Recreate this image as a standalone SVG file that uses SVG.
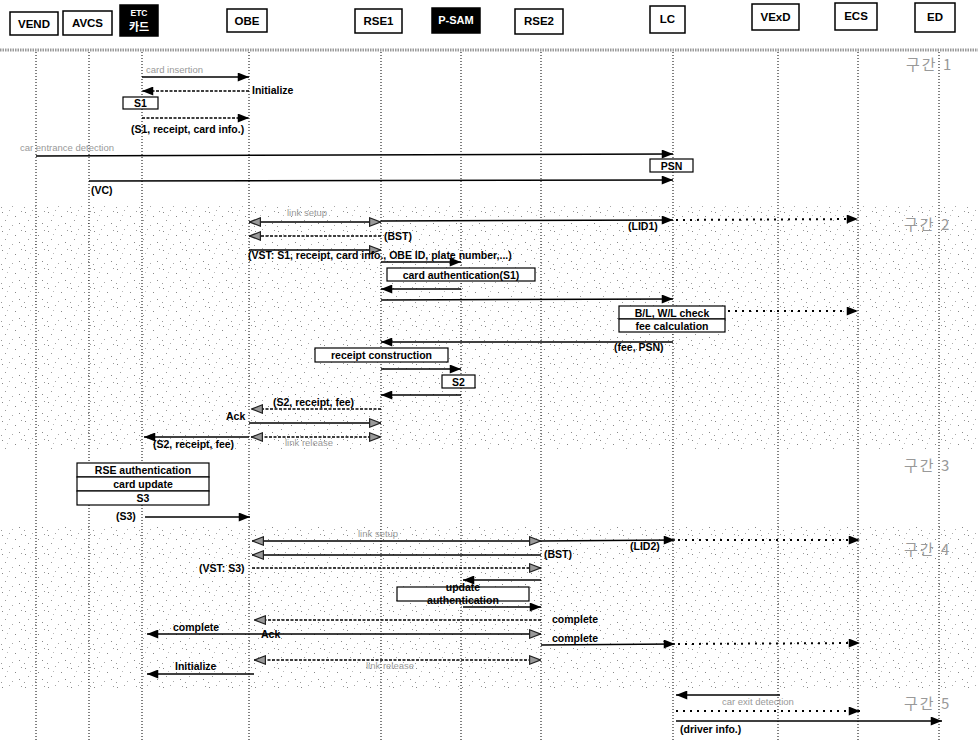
<svg xmlns="http://www.w3.org/2000/svg" width="978" height="740" viewBox="0 0 978 740">
<style>
.hb{fill:#fff;stroke:#000;stroke-width:1.5}
.hbk{fill:#000;stroke:#000;stroke-width:1.5}
.ht{font-family:"Liberation Sans",Arial,sans-serif;font-weight:bold;font-size:11.5px;text-anchor:middle;fill:#000}
.htw{font-family:"Liberation Sans","Noto Sans CJK KR",sans-serif;font-weight:bold;text-anchor:middle;fill:#fff}
.life{stroke:#000;stroke-width:1;stroke-dasharray:1 2;fill:none}
.m{stroke:#000;stroke-width:1.4;fill:none;marker-end:url(#ah)}
.md{stroke:#000;stroke-width:1.4;fill:none;stroke-dasharray:3 1.5;marker-end:url(#ah)}
.mg{stroke:#000;stroke-width:1.4;fill:none;marker-end:url(#ahg)}
.mgd{stroke:#000;stroke-width:1.4;fill:none;stroke-dasharray:3 1.5;marker-end:url(#ahg)}
.mgg{stroke:#000;stroke-width:1.4;fill:none;marker-start:url(#ahg);marker-end:url(#ahg)}
.mggd{stroke:#000;stroke-width:1.4;fill:none;stroke-dasharray:3 1.5;marker-start:url(#ahg);marker-end:url(#ahg)}
.dot{stroke:#000;stroke-width:2;fill:none;stroke-dasharray:2 5;marker-end:url(#ah)}
.t{font-family:"Liberation Sans",Arial,sans-serif;font-weight:bold;font-size:10.5px;fill:#000}
.g{font-family:"Liberation Sans",Arial,sans-serif;font-size:9.5px;fill:#999}
.bx{fill:#fff;stroke:#000;stroke-width:1.2}
.bt{font-family:"Liberation Sans",Arial,sans-serif;font-weight:bold;font-size:10.5px;fill:#000;text-anchor:middle}
.sec{font-family:"Noto Sans CJK KR","Liberation Sans",sans-serif;font-size:15px;fill:#999;letter-spacing:2px}
</style>
<defs>
<marker id="ah" viewBox="0 0 10 8" refX="10" refY="4" markerWidth="12" markerHeight="9" markerUnits="userSpaceOnUse" orient="auto-start-reverse"><path d="M0,0 L10,4 L0,8 z" fill="#000"/></marker>
<marker id="ahg" viewBox="0 0 10 8" refX="10" refY="4" markerWidth="12" markerHeight="10" markerUnits="userSpaceOnUse" orient="auto-start-reverse"><path d="M0.5,0.5 L9.5,4 L0.5,7.5 z" fill="#999" stroke="#222" stroke-width="1"/></marker>
<pattern id="noise" width="23" height="19" patternUnits="userSpaceOnUse">
<rect x="2" y="3" width="1" height="1" fill="#888"/><rect x="9" y="1" width="1" height="1" fill="#aaa"/><rect x="15" y="7" width="1" height="1" fill="#888"/><rect x="5" y="11" width="1" height="1" fill="#999"/><rect x="19" y="14" width="1" height="1" fill="#888"/><rect x="12" y="16" width="1" height="1" fill="#aaa"/><rect x="21" y="2" width="1" height="1" fill="#999"/><rect x="7" y="6" width="1" height="1" fill="#bbb"/><rect x="1" y="17" width="1" height="1" fill="#999"/>
</pattern>
</defs>
<rect width="978" height="740" fill="#fff"/>
<rect x="0" y="205" width="978" height="245" fill="url(#noise)"/>
<rect x="0" y="525" width="978" height="165" fill="url(#noise)"/>
<line x1="0" y1="50" x2="978" y2="50" stroke="#999" stroke-width="3" stroke-dasharray="1.5 1"/>
<g id="lifelines">
<line class="life" x1="36" y1="52" x2="36" y2="740"/>
<line class="life" x1="89" y1="52" x2="89" y2="740"/>
<line class="life" x1="142" y1="52" x2="142" y2="740"/>
<line class="life" x1="249" y1="52" x2="249" y2="740"/>
<line class="life" x1="381" y1="52" x2="381" y2="740"/>
<line class="life" x1="461" y1="52" x2="461" y2="740"/>
<line class="life" x1="541" y1="52" x2="541" y2="740"/>
<line class="life" x1="673" y1="52" x2="673" y2="740"/>
<line class="life" x1="778" y1="52" x2="778" y2="740"/>
<line class="life" x1="858" y1="52" x2="858" y2="740"/>
<line class="life" x1="939" y1="52" x2="939" y2="740"/>
</g>
<g id="VEND"><rect class="hb" x="10" y="12" width="48" height="23"/><text class="ht" x="34" y="28">VEND</text></g>
<g id="AVCS"><rect class="hb" x="63" y="11" width="49" height="24"/><text class="ht" x="87.5" y="27">AVCS</text></g>
<g id="ETC"><rect class="hbk" x="120" y="5" width="38" height="31"/><text class="htw" x="139" y="16" font-size="8.5">ETC</text><text class="htw" x="139" y="31" font-size="11">카드</text></g>
<g id="OBE"><rect class="hb" x="227" y="9" width="40" height="23"/><text class="ht" x="247" y="25">OBE</text></g>
<g id="RSE1"><rect class="hb" x="355" y="9" width="47" height="24"/><text class="ht" x="378.5" y="25">RSE1</text></g>
<g id="PSAM"><rect class="hbk" x="432" y="8" width="48" height="25"/><text class="htw" x="456" y="24" font-size="11">P-SAM</text></g>
<g id="RSE2"><rect class="hb" x="515" y="9" width="48" height="25"/><text class="ht" x="539" y="25">RSE2</text></g>
<g id="LC"><rect class="hb" x="650" y="6" width="35" height="27"/><text class="ht" x="667.5" y="23">LC</text></g>
<g id="VExD"><rect class="hb" x="752" y="4" width="47" height="26"/><text class="ht" x="775.5" y="21">VExD</text></g>
<g id="ECS"><rect class="hb" x="835" y="3" width="42" height="27"/><text class="ht" x="856" y="20">ECS</text></g>
<g id="ED"><rect class="hb" x="915" y="3" width="40" height="29"/><text class="ht" x="935" y="21">ED</text></g>

<g id="sections">
<text class="sec" x="906" y="70">구간 1</text>
<text class="sec" x="904" y="230">구간 2</text>
<text class="sec" x="904" y="471">구간 3</text>
<text class="sec" x="904" y="555">구간 4</text>
<text class="sec" x="904" y="709">구간 5</text>
</g>

<g id="boxes">
<g id="S1"><rect class="bx" x="123" y="97" width="35" height="12"/><text class="bt" x="140.5" y="107">S1</text></g>
<g id="PSN"><rect class="bx" x="650" y="159" width="43" height="13"/><text class="bt" x="671.5" y="169.5">PSN</text></g>
<g id="cardauth"><rect class="bx" x="387" y="268" width="148" height="13"/><text class="bt" x="461" y="278.5">card authentication(S1)</text></g>
<g id="blwl"><rect class="bx" x="619" y="306" width="106" height="13"/><text class="bt" x="672" y="316.5">B/L, W/L check</text><rect class="bx" x="619" y="319" width="106" height="13"/><text class="bt" x="672" y="329.5">fee calculation</text></g>
<g id="receipt"><rect class="bx" x="315" y="348" width="133" height="14"/><text class="bt" x="381.5" y="359">receipt construction</text></g>
<g id="S2"><rect class="bx" x="442" y="375" width="33" height="13"/><text class="bt" x="458.5" y="385.5">S2</text></g>
<g id="rseauth"><rect class="bx" x="77" y="463" width="132" height="14"/><text class="bt" x="143" y="474">RSE authentication</text><rect class="bx" x="77" y="477" width="132" height="14"/><text class="bt" x="143" y="488">card update</text><rect class="bx" x="77" y="491" width="132" height="14"/><text class="bt" x="143" y="502">S3</text></g>
<g id="update"><rect class="bx" x="397" y="587" width="132" height="14"/><text class="bt" x="463" y="591">update</text><text class="bt" x="463" y="604">authentication</text></g>
</g>

<g id="connectors">
<line class="m" x1="142" y1="77" x2="249" y2="77"/>
<line class="md" x1="249" y1="91" x2="142" y2="91"/>
<line class="md" x1="142" y1="118" x2="249" y2="118"/>
<line class="m" x1="36" y1="156" x2="673" y2="154"/>
<line class="m" x1="89" y1="181" x2="673" y2="180"/>

<line class="mgg" x1="249" y1="222" x2="381" y2="222"/>
<line class="m" x1="381" y1="221" x2="673" y2="220"/>
<line class="dot" x1="676" y1="220" x2="858" y2="219"/>
<line class="mgd" x1="381" y1="236" x2="249" y2="236"/>
<line class="mg" x1="249" y1="250" x2="381" y2="250"/>
<line class="m" x1="381" y1="262" x2="461" y2="262"/>
<line class="m" x1="461" y1="289" x2="381" y2="289"/>
<line class="m" x1="381" y1="300" x2="673" y2="299"/>
<line class="dot" x1="728" y1="311" x2="858" y2="311"/>
<line class="m" x1="673" y1="342" x2="381" y2="342"/>
<line class="m" x1="381" y1="369" x2="461" y2="369"/>
<line class="m" x1="461" y1="395" x2="381" y2="395"/>
<line class="mgd" x1="381" y1="409" x2="251" y2="409"/>
<line class="mg" x1="249" y1="423" x2="381" y2="423"/>
<line class="mggd" x1="251" y1="437" x2="381" y2="437"/>
<line class="m" x1="249" y1="437" x2="144" y2="437"/>

<line class="m" x1="145" y1="517" x2="250" y2="517"/>

<line class="mgg" x1="252" y1="541" x2="541" y2="541"/>
<line class="m" x1="541" y1="541" x2="675" y2="540"/>
<line class="dot" x1="678" y1="540" x2="860" y2="540"/>
<line class="mg" x1="541" y1="555" x2="252" y2="555"/>
<line class="mgd" x1="252" y1="568" x2="541" y2="568"/>
<line class="m" x1="541" y1="580" x2="463" y2="580"/>
<line class="m" x1="463" y1="607" x2="541" y2="607"/>
<line class="mgd" x1="541" y1="620" x2="254" y2="620"/>
<line class="mg" x1="254" y1="634" x2="541" y2="634"/>
<line class="m" x1="254" y1="634" x2="147" y2="634"/>
<line class="m" x1="541" y1="645" x2="675" y2="644"/>
<line class="dot" x1="678" y1="644" x2="860" y2="643"/>
<line class="mggd" x1="254" y1="660" x2="541" y2="660"/>
<line class="m" x1="254" y1="674" x2="147" y2="674"/>

<line class="m" x1="780" y1="695" x2="676" y2="695"/>
<line class="dot" x1="676" y1="711" x2="860" y2="711"/>
<line class="m" x1="676" y1="721" x2="942" y2="721"/>
</g>

<g id="labels">
<text class="g" x="146" y="73">card insertion</text>
<text class="t" x="252" y="94">Initialize</text>
<text class="t" x="131" y="133">(S1, receipt, card info.)</text>
<text class="g" x="20" y="151">car entrance detection</text>
<text class="t" x="91" y="194">(VC)</text>
<text class="g" x="287" y="216">link setup</text>
<text class="t" x="628" y="230">(LID1)</text>
<text class="t" x="384" y="240">(BST)</text>
<text class="t" x="248" y="259" font-size="10">(VST: S1, receipt, card info., OBE ID, plate number,...)</text>
<text class="t" x="614" y="351">(fee, PSN)</text>
<text class="t" x="273" y="406">(S2, receipt, fee)</text>
<text class="t" x="226" y="420">Ack</text>
<text class="g" x="285" y="446">link release</text>
<text class="t" x="153" y="448">(S2, receipt, fee)</text>
<text class="t" x="116" y="520">(S3)</text>
<text class="g" x="358" y="537">link setup</text>
<text class="t" x="630" y="550">(LID2)</text>
<text class="t" x="544" y="558">(BST)</text>
<text class="t" x="199" y="572">(VST: S3)</text>
<text class="t" x="552" y="623">complete</text>
<text class="t" x="261" y="638">Ack</text>
<text class="t" x="173" y="631">complete</text>
<text class="t" x="552" y="642">complete</text>
<text class="g" x="366" y="669">link release</text>
<text class="t" x="175" y="670">Initialize</text>
<text class="g" x="722" y="705">car exit detection</text>
<text class="t" x="680" y="733">(driver info.)</text>
</g>
</svg>
